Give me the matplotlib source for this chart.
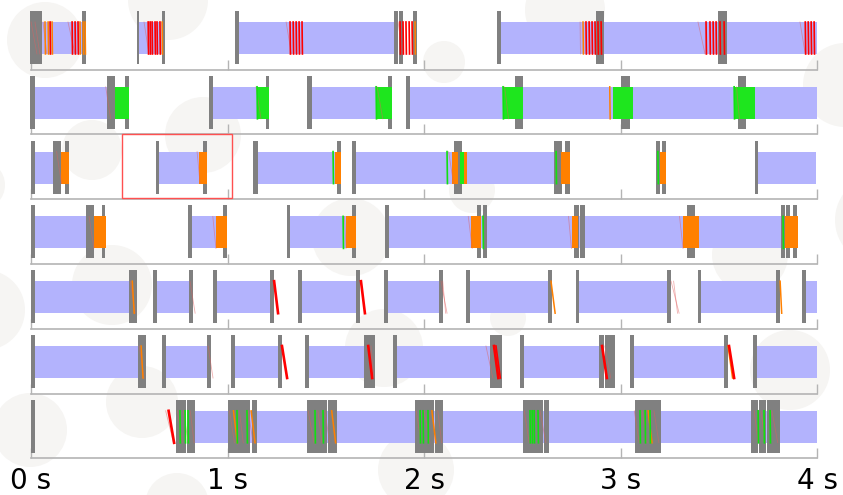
import matplotlib
matplotlib.use("Agg")
import matplotlib.pyplot as plt
from matplotlib.patches import Rectangle, Circle

# Seven tracks, all times in milliseconds.
BLUE_SPANS = [
    [(56, 265), (550, 672), (1058, 1847), (2392, 4000)],
    [(20, 392), (926, 1150), (1430, 1761), (1929, 4000)],
    [(20, 137), (651, 855), (1155, 1547), (1654, 2662), (3700, 3995)],
    [(20, 280), (819, 941), (1318, 1603), (1822, 3880)],
    [(20, 499), (641, 814), (947, 1221), (1379, 1659), (1817, 2076),
     (2234, 2631), (2789, 3247), (3410, 3796), (3944, 4000)],
    [(20, 545), (687, 896), (1038, 1272), (1415, 1700), (1863, 2346),
     (2509, 2901), (3066, 3537), (3695, 4000)],
    [(835, 4000)],
]

GRAY_BARS = [
    [(-5, 18), (18, 38), (38, 56), (260, 280), (540, 550), (667, 682), (1038, 1058),
     (1847, 1868), (1870, 1893), (1944, 1964), (2372, 2392), (2875, 2916), (3496, 3542)],
    [(-5, 20), (387, 406), (408, 427), (478, 499), (906, 926), (1196, 1211), (1405, 1430),
     (1817, 1837), (1908, 1929), (2463, 2504), (3003, 3048), (3598, 3639)],
    [(0, 20), (112, 131), (133, 153), (173, 193), (636, 651), (875, 896), (1130, 1155),
     (1557, 1578), (1634, 1654), (2153, 2193), (2662, 2702), (2718, 2743), (3181, 3201),
     (3211, 3232), (3684, 3700)],
    [(0, 20), (280, 299), (301, 321), (361, 377), (799, 819), (977, 997), (1303, 1318),
     (1634, 1654), (1802, 1822), (2270, 2290), (2300, 2321), (2763, 2790), (2795, 2819),
     (3338, 3379), (3817, 3837), (3842, 3862), (3878, 3898)],
    [(0, 20), (499, 539), (621, 641), (804, 824), (926, 947), (1216, 1237), (1359, 1379),
     (1654, 1674), (1796, 1817), (2076, 2097), (2214, 2234), (2631, 2651), (2774, 2789),
     (3237, 3257), (3392, 3410), (3791, 3812), (3924, 3944)],
    [(0, 20), (545, 585), (667, 687), (896, 916), (1018, 1038), (1257, 1277), (1394, 1415),
     (1695, 1748), (1842, 1863), (2336, 2395), (2488, 2509), (2891, 2916), (2920, 2972),
     (3048, 3066), (3527, 3547), (3674, 3695)],
    [(0, 20), (738, 790), (792, 835), (1003, 1087), (1091, 1115), (1125, 1150),
     (1405, 1504), (1511, 1557), (1954, 2049), (2056, 2097), (2504, 2522), (2526, 2605),
     (2611, 2636), (3074, 3206), (3664, 3700), (3705, 3740), (3745, 3812)],
]

ORANGE_BLOCKS = [
    [], [],
    [(153, 193), (855, 896), (1547, 1578), (2142, 2173), (2204, 2219), (2697, 2743),
     (3201, 3232)],
    [(321, 382), (941, 997), (1603, 1654), (2239, 2290), (2753, 2784), (3318, 3399),
     (3837, 3903)],
    [], [], [],
]

GREEN_BLOCKS = [
    [],
    [(427, 499), (1150, 1211), (1761, 1837), (2402, 2504), (2962, 3064), (3583, 3684)],
    [(2183, 2204)],
    [], [], [], [],
]

# thin traces across the band: (time at top, time at bottom, kind)
TRACES = [
    [(0, 30, "p"), (20, 45, "p"), (61, 80, "p"), (71, 73, "o"), (87, 89, "o"), (97, 99, "r"),
     (107, 109, "o"), (188, 224, "p"), (209, 211, "r"), (224, 226, "r"), (239, 241, "r"),
     (249, 251, "o"), (265, 267, "o"), (275, 277, "o"),
     (575, 600, "p"), (596, 598, "r"), (606, 608, "r"), (616, 618, "r"), (631, 633, "r"),
     (641, 643, "r"), (656, 658, "r"), (667, 669, "o"),
     (1298, 1325, "p"), (1318, 1320, "r"), (1334, 1336, "r"), (1349, 1351, "r"),
     (1364, 1366, "r"), (1379, 1381, "r"),
     (1868, 1890, "p"), (1878, 1880, "r"), (1893, 1895, "r"), (1908, 1910, "r"),
     (1924, 1926, "r"), (1939, 1941, "r"), (1954, 1956, "o"),
     (2794, 2796, "p"), (2809, 2811, "o"), (2824, 2826, "r"), (2840, 2842, "r"),
     (2855, 2857, "r"), (2870, 2872, "r"), (2885, 2887, "r"), (2901, 2903, "r"),
     (3394, 3430, "p"), (3435, 3437, "r"), (3455, 3457, "r"), (3471, 3473, "r"),
     (3486, 3488, "r"), (3506, 3508, "r"), (3527, 3529, "r"),
     (3913, 3940, "p"), (3940, 3942, "r"), (3955, 3957, "r"), (3970, 3972, "r"),
     (3985, 3987, "r")],
    [(380, 405, "p"), (1145, 1170, "p"), (1150, 1152, "g"), (1756, 1758, "g"),
     (1761, 1790, "p"), (2402, 2404, "g"), (2410, 2430, "p"), (2945, 2947, "o"),
     (3578, 3580, "g"), (3590, 3605, "p")],
    [(130, 155, "p"), (845, 860, "p"), (1537, 1539, "g"), (2117, 2119, "g"),
     (2125, 2150, "p"), (2672, 2674, "g"), (3190, 3192, "g")],
    [(295, 320, "p"), (925, 941, "p"), (1588, 1590, "g"), (1595, 1603, "p"),
     (2225, 2245, "p"), (2300, 2302, "g"), (2735, 2750, "p"), (3300, 3318, "p"),
     (3827, 3829, "g")],
    [(505, 530, "p"), (515, 525, "o"), (809, 835, "p"), (1237, 1257, "R"),
     (1679, 1699, "R"), (2086, 2117, "p"), (2095, 2110, "p"), (2646, 2667, "o"),
     (3257, 3298, "p"), (3270, 3290, "p"), (3812, 3820, "o")],
    [(550, 575, "p"), (560, 570, "o"), (901, 926, "p"), (1277, 1303, "R"),
     (1716, 1736, "R"), (1730, 1745, "p"), (2315, 2350, "p"), (2356, 2378, "R"),
     (2366, 2388, "r"), (2906, 2930, "R"), (2920, 2950, "p"), (3547, 3570, "o"),
     (3552, 3578, "R")],
    [(685, 725, "p"), (700, 728, "R"), (745, 770, "p"), (758, 760, "g"), (775, 800, "p"),
     (784, 786, "g"), (799, 801, "g"), (810, 830, "p"),
     (1010, 1035, "p"), (1030, 1050, "o"), (1048, 1050, "g"), (1060, 1080, "p"),
     (1099, 1101, "g"), (1105, 1130, "p"), (1120, 1140, "o"),
     (1410, 1440, "p"), (1445, 1447, "g"), (1460, 1480, "p"), (1486, 1488, "g"),
     (1495, 1520, "p"), (1530, 1550, "o"),
     (1960, 1985, "p"), (1980, 1982, "g"), (1995, 1997, "g"), (2000, 2030, "p"),
     (2020, 2022, "g"), (2040, 2060, "o"), (2070, 2090, "p"),
     (2510, 2535, "p"), (2539, 2541, "g"), (2550, 2552, "g"), (2560, 2562, "g"),
     (2580, 2582, "g"), (2590, 2620, "p"),
     (3070, 3095, "p"), (3099, 3101, "g"), (3110, 3135, "p"), (3125, 3127, "g"),
     (3140, 3160, "o"), (3150, 3152, "g"), (3170, 3195, "p"),
     (3680, 3700, "p"), (3700, 3702, "g"), (3715, 3735, "p"), (3730, 3732, "g"),
     (3761, 3763, "g"), (3770, 3800, "p")],
]

TICKS = [0, 1000, 2000, 3000, 4000]
TICK_LABELS = ["0 s", "1 s", "2 s", "3 s", "4 s"]

# selected window: (track, start, end)
HIGHLIGHT = (2, 463, 1023)

# soft background bubbles, in figure pixels
BUBBLES = [(45, 40, 38), (168, 0, 40), (203, 135, 38), (444, 62, 21), (565, 10, 40),
           (845, 85, 42), (92, 150, 30), (-20, 185, 25), (112, 285, 40), (-15, 310, 40),
           (142, 402, 36), (30, 430, 37), (177, 505, 32), (416, 470, 38), (351, 237, 39),
           (384, 348, 39), (472, 190, 23), (508, 318, 18), (750, 255, 38), (880, 220, 45),
           (790, 370, 40)]

TRACE_STYLE = {
    "r": dict(color="#ff0000", lw=1.2, alpha=1.0),
    "R": dict(color="#ff0000", lw=1.9, alpha=1.0),
    "o": dict(color="#ff8000", lw=1.1, alpha=1.0),
    "g": dict(color="#11e011", lw=1.2, alpha=1.0),
    "p": dict(color="#e06060", lw=0.6, alpha=0.5),
}

ROW_TOP, ROW_STEP = 11, 64.8
BAR_H, BAND_OFF, BAND_H, BASE_OFF = 53, 11, 32, 58.5

fig = plt.figure(figsize=(8.43, 4.95), dpi=100)

bg = fig.add_axes([0, 0, 1, 1])
bg.set_xlim(0, 843)
bg.set_ylim(495, 0)
bg.axis("off")
for x, y, r in BUBBLES:
    bg.add_patch(Circle((x, y), r, fc="#f6f5f3", ec="none"))

ax = fig.add_axes([0, 0, 1, 1], zorder=1)
ax.patch.set_alpha(0)
ax.set_xlim(-158, 4132)
ax.set_ylim(495, 0)
ax.axis("off")

for i in range(7):
    top = ROW_TOP + i * ROW_STEP
    band = top + BAND_OFF
    base = top + BASE_OFF

    ax.plot([0, 4000], [base, base], color="#b4b4b4", lw=1.2, zorder=1)
    ax.vlines(TICKS, base - 10, base, color="#b4b4b4", lw=1.0, zorder=1)

    for t0, t1 in BLUE_SPANS[i]:
        ax.add_patch(Rectangle((t0, band), t1 - t0, BAND_H, fc="#b3b3fd", ec="none", zorder=2))
    for t0, t1 in GRAY_BARS[i]:
        ax.add_patch(Rectangle((t0, top), t1 - t0, BAR_H, fc="#808080", ec="none", zorder=3))
    for t0, t1 in ORANGE_BLOCKS[i]:
        ax.add_patch(Rectangle((t0, band), t1 - t0, BAND_H, fc="#ff8000", ec="none", zorder=4))
    for t0, t1 in GREEN_BLOCKS[i]:
        ax.add_patch(Rectangle((t0, band), t1 - t0, BAND_H, fc="#1ee61e", ec="none", zorder=4))
    for t_top, t_bot, kind in TRACES[i]:
        ax.plot([t_top, t_bot], [band, band + BAND_H], zorder=5, **TRACE_STYLE[kind])

row, t0, t1 = HIGHLIGHT
top = ROW_TOP + row * ROW_STEP
ax.add_patch(Rectangle((t0, top - 6.5), t1 - t0, 64, fc="none", ec="#ff5050", lw=1.0, zorder=6))

for t, label in zip(TICKS, TICK_LABELS):
    ax.text(t, 481, label, ha="center", va="center", fontsize=20, color="black")

fig.savefig("out.png", dpi=100)
